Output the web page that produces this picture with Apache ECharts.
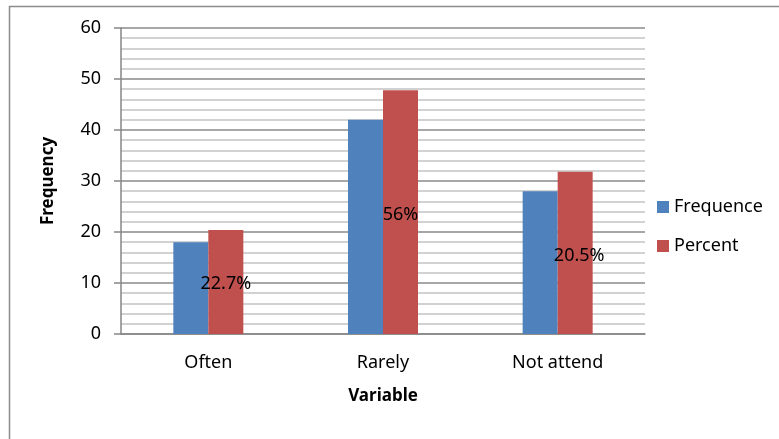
<!DOCTYPE html>
<html>
<head>
<meta charset="utf-8">
<script src="https://cdn.jsdelivr.net/npm/echarts@6/dist/echarts.min.js"></script>
<style>
  html, body { margin: 0; padding: 0; background: #ffffff; }
  #chart { width: 779px; height: 439px; }
</style>
</head>
<body>
<div id="chart"></div>
<script>
// Attendance frequency by category
const categories = ['Often', 'Rarely', 'Not attend'];
const frequenceValues = [18, 42, 28];
const percentValues = [20.4, 47.8, 31.8];
const yTicks = [0, 10, 20, 30, 40, 50, 60];

// Percentage annotations placed over each category group
const noteTexts = ['22.7%', '56%', '20.5%'];
const noteLevels = [9.9, 23.4, 15.3];

const FONT = '"Noto Sans", "DejaVu Sans", sans-serif';

const chart = echarts.init(document.getElementById('chart'), null, { renderer: 'canvas' });

chart.setOption({
  animation: false,
  backgroundColor: '#ffffff',
  textStyle: { fontFamily: FONT },
  graphic: [{
    type: 'rect',
    shape: { x: 9.5, y: 6.5, width: 800, height: 460 },
    style: { fill: 'none', stroke: '#8c8c8c', lineWidth: 1.5 },
    silent: true
  }],
  grid: { left: 121, right: 134, top: 28, bottom: 105 },
  legend: {
    orient: 'vertical',
    left: 652,
    top: 193,
    itemWidth: 12,
    itemHeight: 12,
    itemGap: 21,
    icon: 'rect',
    textStyle: { fontFamily: FONT, fontSize: 18, color: '#000000' },
    data: ['Frequence', 'Percent']
  },
  xAxis: {
    type: 'category',
    data: categories,
    name: 'Variable',
    nameLocation: 'middle',
    nameGap: 54,
    nameTextStyle: { fontFamily: FONT, fontSize: 17, fontWeight: 'bold', color: '#000000' },
    axisLine: { lineStyle: { color: '#868686', width: 1.5 } },
    axisTick: { show: false },
    axisLabel: { fontFamily: FONT, fontSize: 18, color: '#000000', margin: 20 }
  },
  yAxis: {
    type: 'value',
    min: yTicks[0],
    max: yTicks[yTicks.length - 1],
    interval: 10,
    name: 'Frequency',
    nameLocation: 'middle',
    nameRotate: 90,
    nameGap: 64,
    nameTextStyle: { fontFamily: FONT, fontSize: 17, fontWeight: 'bold', color: '#000000' },
    axisLine: { show: true, lineStyle: { color: '#868686', width: 1.5 } },
    axisTick: { show: true, inside: false, length: 7, lineStyle: { color: '#868686', width: 1.5 } },
    axisLabel: { fontFamily: FONT, fontSize: 18, color: '#000000', margin: 20 },
    splitLine: { show: true, lineStyle: { color: '#8a8a8a', width: 1.5 } },
    minorTick: { show: false, splitNumber: 5 },
    minorSplitLine: { show: true, lineStyle: { color: '#c4c4c4', width: 1.5 } }
  },
  series: [
    {
      name: 'Frequence',
      type: 'bar',
      data: frequenceValues,
      barWidth: 35,
      barGap: '0%',
      itemStyle: { color: '#4F81BD' }
    },
    {
      name: 'Percent',
      type: 'bar',
      data: percentValues,
      barWidth: 35,
      barGap: '0%',
      itemStyle: { color: '#C0504D' },
      markPoint: {
        symbol: 'circle',
        symbolSize: 0,
        silent: true,
        label: {
          show: true,
          position: 'inside',
          fontFamily: FONT,
          fontSize: 18,
          color: '#000000',
          formatter: p => p.name
        },
        data: noteTexts.map((t, i) => ({
          name: t,
          coord: [categories[i], noteLevels[i]],
          label: { offset: [i === 2 ? 4 : 0, 0] }
        }))
      }
    }
  ]
});
</script>
</body>
</html>
